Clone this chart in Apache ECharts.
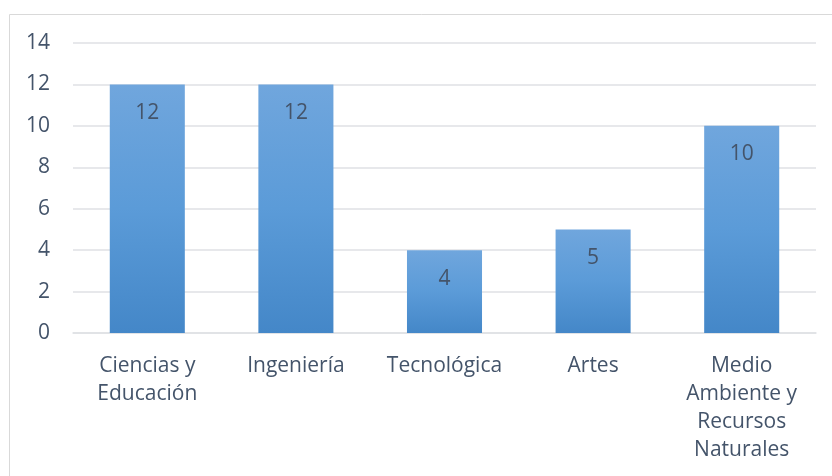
<!DOCTYPE html>
<html>
<head>
<meta charset="utf-8">
<script src="https://cdn.jsdelivr.net/npm/echarts@6/dist/echarts.min.js"></script>
<style>
  html, body { margin: 0; padding: 0; background: #fff; }
  #chart { width: 832px; height: 476px; }
</style>
</head>
<body>
<div id="chart"></div>
<script>
const categories = ['Ciencias y\nEducación', 'Ingeniería', 'Tecnológica', 'Artes', 'Medio\nAmbiente y\nRecursos\nNaturales'];
const values = [12, 12, 4, 5, 10];
const yTicks = [0, 2, 4, 6, 8, 10, 12, 14];

const TEXT = '#44546a';
const GRID = '#dfe1e5';
const FONT = '"Open Sans", "Noto Sans", sans-serif';
const SIZE = 21;

const chart = echarts.init(document.getElementById('chart'), null, { renderer: 'canvas' });

chart.setOption({
  animation: false,
  textStyle: { fontFamily: FONT },
  graphic: [
    {
      type: 'rect',
      shape: { x: 9.5, y: 14.5, width: 840, height: 480 },
      style: { fill: 'none', stroke: '#d9d9d9', lineWidth: 1 },
      silent: true,
    },
  ],
  grid: { left: 73, right: 16, top: 43, bottom: 143, containLabel: false },
  xAxis: {
    type: 'category',
    data: categories,
    axisLine: { lineStyle: { color: GRID, width: 1.5 } },
    axisTick: { show: false },
    axisLabel: {
      color: TEXT,
      fontSize: SIZE,
      fontFamily: FONT,
      lineHeight: 28,
      margin: 19,
      interval: 0,
    },
  },
  yAxis: {
    type: 'value',
    min: yTicks[0],
    max: yTicks[yTicks.length - 1],
    interval: 2,
    axisLine: { show: false },
    axisTick: { show: false },
    splitLine: { lineStyle: { color: GRID, width: 1.5 } },
    axisLabel: { color: TEXT, fontSize: SIZE, fontFamily: FONT, margin: 23 },
  },
  series: [
    {
      type: 'bar',
      data: values,
      barWidth: '50.5%',
      itemStyle: {
        color: new echarts.graphic.LinearGradient(0, 0, 0, 1, [
          { offset: 0, color: '#70a6dd' },
          { offset: 0.5, color: '#5b9bd8' },
          { offset: 1, color: '#4487c8' },
        ]),
      },
      label: {
        show: true,
        position: 'insideTop',
        distance: 18,
        color: TEXT,
        fontSize: SIZE,
        fontFamily: FONT,
      },
    },
  ],
});
</script>
</body>
</html>
